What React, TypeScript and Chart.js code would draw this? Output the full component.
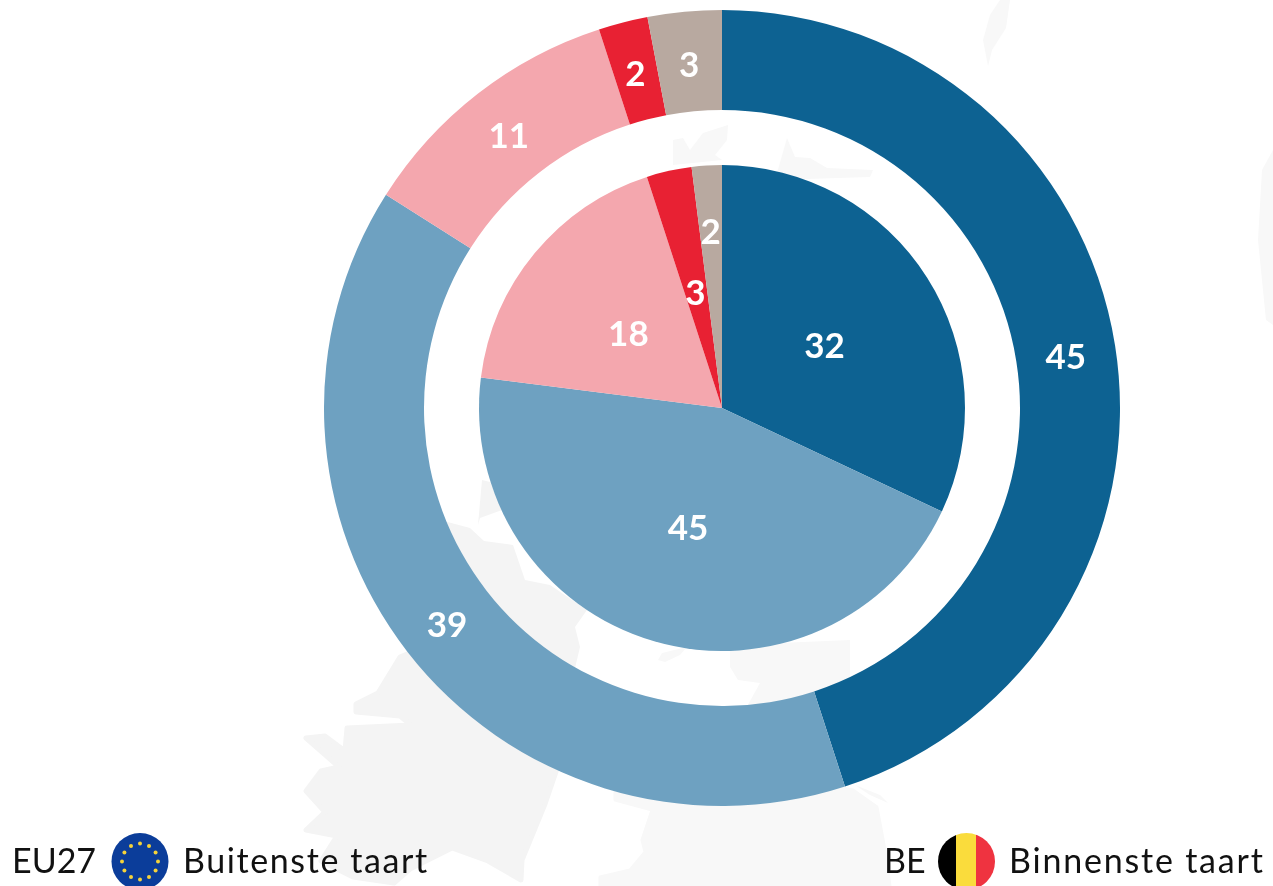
import React, { useEffect, useRef } from "react";
import { Chart, registerables } from "chart.js";

Chart.register(...registerables);

const categories = ["Categorie 1", "Categorie 2", "Categorie 3", "Categorie 4", "Categorie 5"];
const beValues = [32, 45, 18, 3, 2];
const eu27Values = [45, 39, 11, 2, 3];
const spacerValues = [100];
const sliceColors = ["#0D6292", "#6EA1C1", "#F4A7AE", "#E82133", "#B8A9A0"];
const legendLeft = ["EU27", "Buitenste taart"];
const legendRight = ["BE", "Binnenste taart"];
const FONT = "Lato, 'Open Sans', sans-serif";
const MAP = "#F4F4F4";
const MAP2 = "#F8F8F8";

const labelPlugin = {
  id: "sliceLabels",
  afterDatasetsDraw(chart: any) {
    const { ctx } = chart;
    ctx.save();
    ctx.fillStyle = "#FFFFFF";
    ctx.font = `bold 35px ${FONT}`;
    ctx.textAlign = "center";
    ctx.textBaseline = "middle";
    [0, 2].forEach((di) => {
      const meta = chart.getDatasetMeta(di);
      const values = chart.data.datasets[di].data as number[];
      meta.data.forEach((arc: any, i: number) => {
        const a = (arc.startAngle + arc.endAngle) / 2;
        let r = (arc.innerRadius + arc.outerRadius) / 2;
        // the smallest inner slice has its label further out
        if (di === 2 && i === 4) r = arc.outerRadius * 0.74;
        ctx.fillText(String(values[i]), arc.x + Math.cos(a) * r, arc.y + Math.sin(a) * r + 4);
      });
    });
    ctx.restore();
  },
};

function EuStars() {
  const stars = [];
  for (let i = 0; i < 12; i++) {
    const a = (i / 12) * Math.PI * 2;
    stars.push(<circle key={i} cx={140 + Math.cos(a) * 18} cy={861.5 + Math.sin(a) * 18} r={2} fill="#F5D33A" />);
  }
  return <>{stars}</>;
}

export default function App() {
  const ref = useRef<HTMLCanvasElement>(null);
  useEffect(() => {
    const chart = new Chart(ref.current!, {
      type: "doughnut",
      data: {
        labels: categories,
        datasets: [
          { label: "EU27", data: eu27Values, backgroundColor: sliceColors, borderWidth: 0, weight: 100 },
          { label: "", data: spacerValues, backgroundColor: "rgba(0,0,0,0)", borderWidth: 0, weight: 55 },
          { label: "BE", data: beValues, backgroundColor: sliceColors, borderWidth: 0, weight: 243 },
        ],
      } as any,
      options: {
        animation: false,
        responsive: false,
        cutout: 0,
        layout: { padding: 0 },
        plugins: { legend: { display: false }, tooltip: { enabled: false }, title: { display: false } },
      } as any,
      plugins: [labelPlugin],
    });
    return () => chart.destroy();
  }, []);

  return (
    <div style={{ position: "absolute", left: 0, top: 0, width: 1273, height: 886, overflow: "hidden", background: "#FFFFFF" }}>
      <svg width={1273} height={886} style={{ position: "absolute", left: 0, top: 0 }}>
        <path fill={MAP} strokeLinejoin="round" stroke={MAP} strokeWidth={5} d="M306 738 L325 736 L345 751 L347 728 L411 725 L400 716 L356 712 L356 704 L378 693 L400 657 L440 640 L560 760 L545 804 L522 860 L521 880 L488 861 L452 848 L410 869 L394 883 L353 877 L321 861 L337 836 L306 830 L325 812 L306 791 L321 771 L339 767 Z" />
        <path fill={MAP} d="M440 520 L470 528 L484 541 L513 545 L525 580 L550 585 L587 610 L575 627 L580 647 L575 668 L570 700 L560 760 L440 640 Z" />
        <path fill={MAP} d="M482 480 L490 482 L502 510 L480 518 L478 525 Z" />
        <path fill={MAP2} d="M658 660 L662 653 L687 647 L680 655 L665 662 Z" />
        <path fill={MAP2} d="M730 645 L730 667 L738 680 L760 683 L745 710 L850 710 L850 640 Z" />
        <path fill={MAP2} strokeLinejoin="round" stroke={MAP2} strokeWidth={3} d="M615 800 L652 810 L642 840 L645 852 L630 870 L600 877 L600 886 L890 886 L885 850 L877 807 L853 790 L800 780 L615 780 Z" />
        <path fill={MAP2} d="M855 785 L880 795 L888 803 L870 795 Z" />
        <path fill={MAP2} d="M673 140 L683 138 L690 150 L703 133 L728 125 L727 140 L715 155 L722 160 L673 165 Z" />
        <path fill={MAP2} d="M787 138 L795 157 L810 158 L827 168 L873 170 L870 177 L775 180 Z" />
        <path fill={MAP2} d="M983 40 L990 15 L1000 0 L1010 0 L1006 28 L992 50 L988 66 Z" />
        <path fill={MAP2} d="M1273 150 L1262 170 L1258 240 L1266 320 L1273 325 Z" />
      </svg>
      <div style={{ position: "absolute", left: 324, top: 10, width: 796, height: 796 }}>
        <canvas ref={ref} width={796} height={796} style={{ display: "block" }} />
      </div>
      <svg width={1273} height={886} style={{ position: "absolute", left: 0, top: 0, fontFamily: FONT, fontSize: 34 }}>
        <circle cx={140} cy={861.5} r={28.5} fill="#0B3D9A" />
        <EuStars />
        <clipPath id="be"><circle cx={966.5} cy={861.5} r={28.5} /></clipPath>
        <g clipPath="url(#be)">
          <rect x={938} y={833} width={18} height={57} fill="#000000" />
          <rect x={956} y={833} width={20} height={57} fill="#FADC3C" />
          <rect x={976} y={833} width={19} height={57} fill="#EF3340" />
        </g>
        <text x={12} y={873} fill="#111">{legendLeft[0]}</text>
        <text x={183} y={873} fill="#111" letterSpacing={1.6}>{legendLeft[1]}</text>
        <text x={884} y={873} fill="#111">{legendRight[0]}</text>
        <text x={1009} y={873} fill="#111" letterSpacing={1.8}>{legendRight[1]}</text>
      </svg>
    </div>
  );
}
